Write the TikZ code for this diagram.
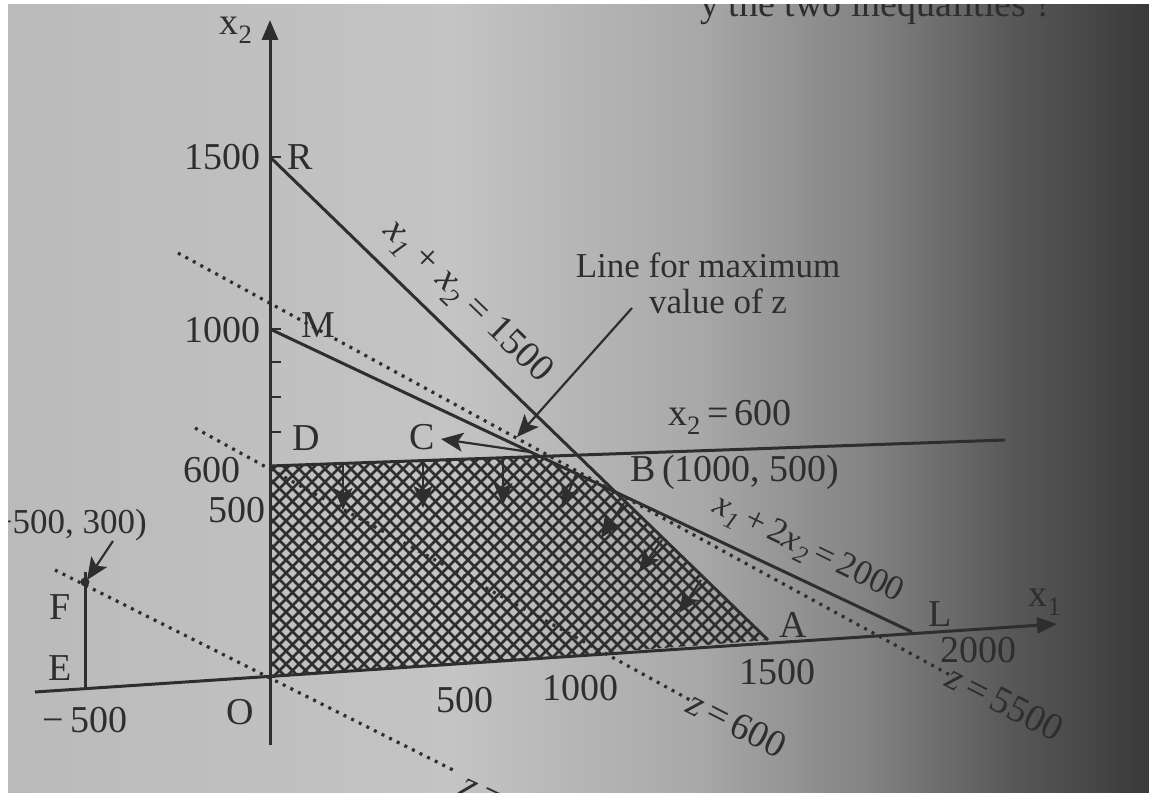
\documentclass[tikz,border=0pt]{standalone}
\usepackage{fontspec}
\setmainfont{Liberation Serif}
\usetikzlibrary{arrows.meta}
\definecolor{inkc}{HTML}{2E2E2E}
\definecolor{g1}{HTML}{BABABA}
\definecolor{g2}{HTML}{C4C4C4}
\definecolor{g3}{HTML}{A8A8A8}
\definecolor{g4}{HTML}{828282}
\definecolor{g5}{HTML}{585858}
\definecolor{g6}{HTML}{3A3A3A}
\begin{document}
\begin{tikzpicture}[x=1pt,y=-1pt,
  solid line/.style={draw=inkc, line width=3pt},
  axisline/.style={draw=inkc, line width=3pt},
  dotline/.style={draw=inkc, line width=3.2pt, dash pattern=on 3pt off 5.5pt},
  hatch/.style={draw=inkc, line width=2.8pt},
  inarrow/.style={draw=inkc, line width=2.2pt, -{Stealth[length=22pt,width=19pt,inset=5pt]}},
  lab/.style={font=\fontsize{38}{42}\selectfont, text=inkc, inner sep=0pt},
  smlab/.style={font=\fontsize{35}{38}\selectfont, text=inkc, inner sep=0pt}]
\useasboundingbox (0,0) rectangle (1149,797);
\fill[white] (0,0) rectangle (1149,797);
% photographed page: grey gradient
\shade[left color=g1, right color=g2] (8,5) rectangle (451,792);
\shade[left color=g2, right color=g3] (450,5) rectangle (701,792);
\shade[left color=g3, right color=g4] (700,5) rectangle (871,792);
\shade[left color=g4, right color=g5] (870,5) rectangle (1011,792);
\shade[left color=g5, right color=g6] (1010,5) rectangle (1149,792);
\begin{scope}
\clip (8,5) rectangle (1149,792);
% key points
\coordinate (O) at (270,678);
\coordinate (X2top) at (270,20);
\coordinate (X2bot) at (270,745);
\coordinate (X1left) at (35,692);
\coordinate (X1right) at (1057,624);
\coordinate (E) at (85,689);
\coordinate (F) at (85,582);
\coordinate (Ftop) at (85,572);
\coordinate (R) at (270,157);
\coordinate (M) at (270,329);
\coordinate (D) at (270,466);
\coordinate (V) at (540,456);
\coordinate (B) at (615,492);
\coordinate (A) at (768,640);
\coordinate (L) at (912,632);
\coordinate (Hend) at (1005,440);
\coordinate (z0s) at (55,570);
\coordinate (z0e) at (455,771);
\coordinate (z6s) at (195,428);
\coordinate (z6e) at (690,700);
\coordinate (zms) at (178,253);
\coordinate (zme) at (950,675);
% hatched feasible region
\begin{scope}
\clip (O) -- (D) -- (V) -- (B) -- (A) -- cycle;
\foreach \c in {0,13,...,1120}{
  \draw[hatch] (\c,430) -- ++(290,290);
  \draw[hatch] (\c,430) -- ++(-290,290);
}
\end{scope}
% dotted objective lines
\draw[dotline] (z0s) -- (z0e);
\draw[dotline] (z6s) -- (z6e);
\draw[dotline] (zms) -- (zme);
% axes
\draw[axisline, -{Triangle[length=20pt,width=16pt]}] (X1left) -- (X1right);
\draw[axisline, -{Triangle[length=20pt,width=16pt]}] (X2bot) -- (X2top);
\foreach \yy in {157,329,362,397,432}{\draw[inkc, line width=2pt] (270,\yy) -- (281,\yy);}
% constraint lines
\draw[solid line] (R) -- (A);
\draw[solid line] (M) -- (L);
\draw[solid line] (D) -- (Hend);
\draw[solid line] (E) -- (Ftop);
\fill[inkc] (F) circle (4.5);
% arrows
\coordinate (a1s) at (343,463); \coordinate (a1e) at (343,510);
\coordinate (a2s) at (423,461); \coordinate (a2e) at (423,508);
\coordinate (a3s) at (503,458); \coordinate (a3e) at (503,505);
\coordinate (a4s) at (577,472); \coordinate (a4e) at (562,508);
\coordinate (a5s) at (624,503); \coordinate (a5e) at (601,538);
\coordinate (a6s) at (662,540); \coordinate (a6e) at (639,572);
\coordinate (a7s) at (701,580); \coordinate (a7e) at (679,613);
\foreach \i in {1,...,7}{\draw[inarrow] (a\i s) -- (a\i e);}
\coordinate (Cs) at (530,452); \coordinate (Ce) at (441,439);
\draw[inarrow] (Cs) -- (Ce);
\coordinate (mxs) at (632,308); \coordinate (mxe) at (517,437);
\draw[inarrow] (mxs) -- (mxe);
\coordinate (fas) at (113,541);
\draw[inarrow] (fas) -- ([shift={(2,-2)}]F);
% labels
\node[lab] (lx2) at (236,30) {x\textsubscript{2}};
\node[lab] (lx1) at (1045,602) {x\textsubscript{1}};
\node[lab] (l1500y) at (222,157) {1500};
\node[lab] (lR) at (300,157) {R};
\node[lab] (l1000y) at (222,330) {1000};
\node[lab] (lM) at (318,325) {M};
\node[lab] (lD) at (306,438) {D};
\node[lab] (l600y) at (212,470) {600};
\node[lab] (l500y) at (237,510) {500};
\node[smlab, anchor=east] (lF5) at (147,525) {(−500, 300)};
\node[lab] (lF) at (60,607) {F};
\node[lab] (lE) at (60,668) {E};
\node[lab] (lm500) at (85,720) {−\,500};
\node[lab] (lO) at (240,712) {O};
\node[lab] (l500x) at (465,700) {500};
\node[lab] (l1000x) at (580,688) {1000};
\node[lab] (l1500x) at (777,672) {1500};
\node[lab] (l2000x) at (978,650) {2000};
\node[lab] (lA) at (793,625) {A};
\node[lab] (lL) at (940,614) {L};
\node[lab] (lC) at (422,437) {C};
\node[lab] (lB) at (735,472) {B\,(1000, 500)};
\node[lab] (lh) at (730,417) {x\textsubscript{2}\,=\,600};
\node[smlab, align=center] (lmax) at (708,283) {Line for maximum\\[-2pt]\hspace*{20pt}value of z};
\node[lab, rotate=-44] (lra) at (467,302) {\textit{x}\textsubscript{\textit{1}} + \textit{x}\textsubscript{\textit{2}} = 1500};
\node[smlab, rotate=-26] (lml) at (808,550) {\textit{x}\textsubscript{\textit{1}}\,+\,2\textit{x}\textsubscript{\textit{2}}\,=\,2000};
\node[lab, rotate=-27] (lz600) at (737,724) {\textit{z}\,=\,600};
\node[lab, rotate=-27] (lz5500) at (1005,703) {\textit{z}\,=\,5500};
\node[lab, rotate=-25] (lz0) at (495,797) {\textit{z}\,=\,0};
\node[lab, anchor=base west] (ltop) at (700,17) {y the two inequalities ?};
\end{scope}
\end{tikzpicture}
\end{document}
